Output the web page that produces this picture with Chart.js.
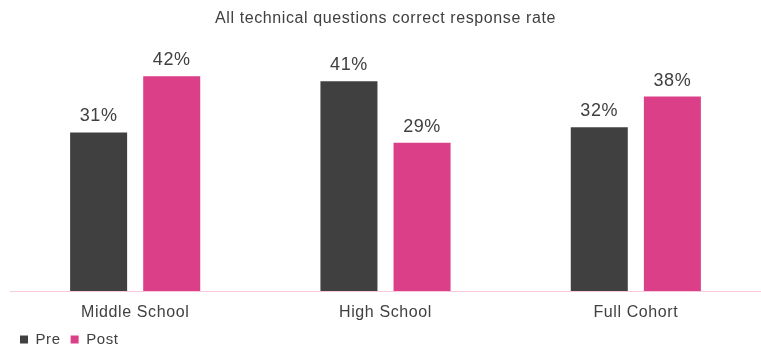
<!DOCTYPE html>
<html lang="en">
<head>
<meta charset="UTF-8">
<title>Correct response rate</title>
<script src="https://cdn.jsdelivr.net/npm/chart.js"></script>
<style>
    html, body { margin: 0; padding: 0; background: #fff; }
    #wrap { width: 761px; height: 351px; }
</style>
</head>
<body>
<div id="wrap"><canvas id="chart"></canvas></div>
<script>
const categories = ['Middle School', 'High School', 'Full Cohort'];
const preValues = [31, 41, 32];
const postValues = [42, 29, 38];

const textColor = '#404040';
const fontFamily = '"Liberation Sans", Arial, Helvetica, sans-serif';

// the reference text is a bit wider than Arial, add some tracking
const tracking = {
    id: 'tracking',
    beforeLayout(chart) { chart.ctx.letterSpacing = '0.6px'; },
    beforeDraw(chart) { chart.ctx.letterSpacing = '0.6px'; }
};

// draws the "31%" labels above each bar
const valueLabels = {
    id: 'valueLabels',
    afterDatasetsDraw(chart) {
        const ctx = chart.ctx;
        ctx.save();
        ctx.font = '18px ' + fontFamily;
        ctx.fillStyle = textColor;
        ctx.textAlign = 'center';
        ctx.textBaseline = 'alphabetic';
        chart.data.datasets.forEach((ds, i) => {
            chart.getDatasetMeta(i).data.forEach((bar, j) => {
                ctx.fillText(ds.data[j] + '%', bar.x, bar.y - 11);
            });
        });
        ctx.restore();
    }
};

new Chart(document.getElementById('chart'), {
    type: 'bar',
    data: {
        labels: categories,
        datasets: [
            { label: 'Pre', data: preValues, backgroundColor: '#404040' },
            { label: 'Post', data: postValues, backgroundColor: '#DB3F87' }
        ]
    },
    options: {
        responsive: true,
        maintainAspectRatio: false,
        animation: false,
        categoryPercentage: 0.584,
        barPercentage: 0.78,
        layout: { padding: { left: 10, right: 0, top: 9, bottom: -6 } },
        scales: {
            x: {
                grid: { display: false, drawTicks: false },
                border: { color: '#F6C9DC', width: 1 },
                ticks: {
                    color: textColor,
                    font: { family: fontFamily, size: 16 },
                    padding: 12
                },
                afterFit(axis) { axis.height = 31; }
            },
            y: {
                display: false,
                min: 0,
                max: 50
            }
        },
        plugins: {
            title: {
                display: true,
                text: 'All technical questions correct response rate',
                color: textColor,
                font: { family: fontFamily, size: 16, weight: 'normal' },
                padding: { top: 0, bottom: 7 }
            },
            legend: {
                position: 'bottom',
                align: 'start',
                labels: {
                    color: textColor,
                    font: { family: fontFamily, size: 15 },
                    boxWidth: 8,
                    boxHeight: 8,
                    padding: 10
                }
            },
            tooltip: { enabled: false }
        }
    },
    plugins: [tracking, valueLabels]
});
</script>
</body>
</html>
